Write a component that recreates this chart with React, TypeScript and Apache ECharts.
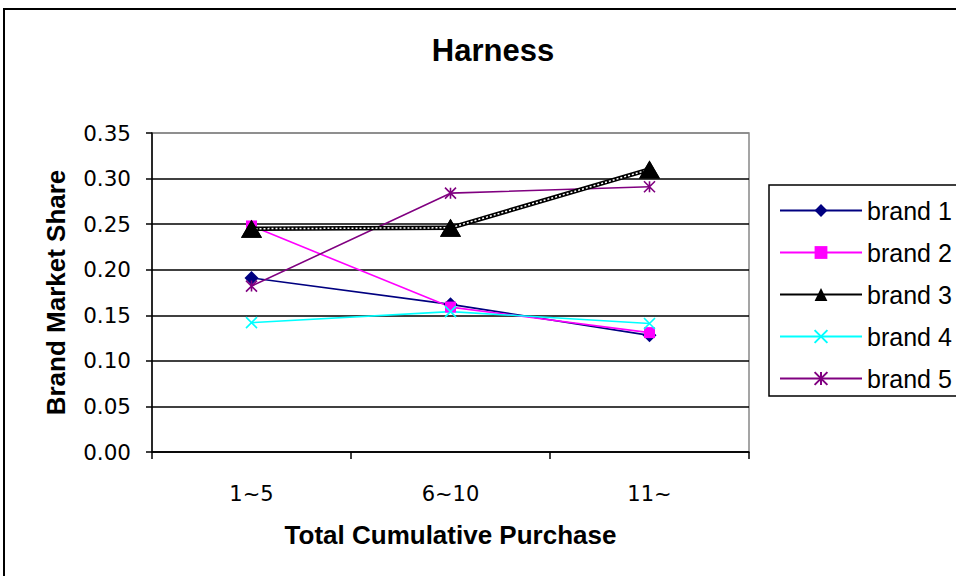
import React, { useEffect, useRef } from "react";
import * as echarts from "echarts";

const categories = ["1~5", "6~10", "11~"];
const brand1 = [0.191, 0.162, 0.128];
const brand2 = [0.248, 0.159, 0.131];
const brand3 = [0.245, 0.246, 0.31];
const brand4 = [0.142, 0.154, 0.141];
const brand5 = [0.182, 0.284, 0.291];
const seriesNames = ["brand 1", "brand 2", "brand 3", "brand 4", "brand 5"];
const yTicks = { min: 0, max: 0.35, interval: 0.05 };

const FONT = "'Liberation Sans', Arial, sans-serif";
const TICK_FONT = "'DejaVu Sans', Verdana, sans-serif";

const crossPath = "path://M0,0L10,10M10,0L0,10";
const asteriskPath = "path://M0,0L10,10M10,0L0,10M5,0L5,10";

export default function App() {
  const ref = useRef<HTMLDivElement>(null);
  useEffect(() => {
    if (!ref.current) return;
    const chart = echarts.init(ref.current, null, { renderer: "svg" });
    const option: any = {
      animation: false,
      backgroundColor: "#fff",
      title: {
        text: "Harness",
        left: 488,
        top: 30,
        textAlign: "center",
        textStyle: { fontFamily: FONT, fontSize: 31, fontWeight: "bold", color: "#000" },
      },
      graphic: [
        {
          type: "rect",
          shape: { x: 4, y: 9, width: 1000, height: 620 },
          style: { fill: "none", stroke: "#000", lineWidth: 2 },
          silent: true,
        },
      ],
      legend: {
        orient: "vertical",
        left: 769,
        top: 185,
        data: seriesNames,
        itemWidth: 82,
        itemHeight: 16,
        itemGap: 17,
        padding: [13, 40, 5, 10],
        borderColor: "#000",
        borderWidth: 1.5,
        textStyle: { fontFamily: FONT, fontSize: 25, color: "#000", padding: [0, 0, 0, 0] },
      },
      grid: {
        left: 152,
        top: 133,
        width: 597,
        height: 319,
        show: true,
        borderColor: "#888",
        borderWidth: 1.5,
        backgroundColor: "transparent",
      },
      xAxis: {
        type: "category",
        data: categories,
        boundaryGap: true,
        name: "Total Cumulative Purchase",
        nameLocation: "middle",
        nameGap: 70,
        nameTextStyle: { fontFamily: FONT, fontSize: 26, fontWeight: "bold", color: "#000" },
        axisLine: { lineStyle: { color: "#000", width: 1.5 } },
        axisTick: { show: true, length: 7, alignWithLabel: false, lineStyle: { color: "#000", width: 1.5 } },
        axisLabel: { fontFamily: TICK_FONT, fontSize: 21, color: "#000", margin: 31 },
        splitLine: { show: false },
      },
      yAxis: {
        type: "value",
        min: yTicks.min,
        max: yTicks.max,
        interval: yTicks.interval,
        name: "Brand Market Share",
        nameLocation: "middle",
        nameGap: 83,
        nameTextStyle: { fontFamily: FONT, fontSize: 26, fontWeight: "bold", color: "#000" },
        axisLine: { show: true, lineStyle: { color: "#000", width: 1.5 } },
        axisTick: { show: true, length: 6, lineStyle: { color: "#000", width: 1.5 } },
        axisLabel: {
          fontFamily: TICK_FONT,
          fontSize: 21.5,
          color: "#000",
          margin: 21,
          formatter: (v: number) => v.toFixed(2),
        },
        splitLine: {
          show: true,
          lineStyle: {
            color: ["#000", "#000", "#000", "#000", "#000", "#000", "#000", "#888"],
            width: 1.6,
          },
        },
      },
      series: [
        {
          name: "brand 1",
          type: "line",
          data: brand1,
          symbol: "diamond",
          symbolSize: 14,
          color: "#000080",
          lineStyle: { color: "#000080", width: 1.6 },
          itemStyle: { color: "#000080" },
          z: 3,
        },
        {
          name: "brand 2",
          type: "line",
          data: brand2,
          symbol: "rect",
          symbolSize: 11,
          color: "#ff00ff",
          lineStyle: { color: "#ff00ff", width: 1.6 },
          itemStyle: { color: "#ff00ff" },
          z: 3,
        },
        {
          name: "brand 3",
          type: "line",
          data: brand3,
          symbol: "triangle",
          symbolSize: [21, 18],
          color: "#000",
          lineStyle: { color: "#000", width: 4.5 },
          itemStyle: { color: "#000" },
          z: 4,
        },
        {
          name: "brand 3 pattern",
          type: "line",
          data: brand3,
          symbol: "triangle",
          symbolSize: [21, 18],
          lineStyle: { color: "#fff", width: 1.5, type: [2, 2] },
          itemStyle: { color: "#000" },
          silent: true,
          z: 5,
        },
        {
          name: "brand 4",
          type: "line",
          data: brand4,
          symbol: crossPath,
          symbolSize: 11,
          color: "#00ffff",
          lineStyle: { color: "#00ffff", width: 1.6 },
          itemStyle: { color: "#00ffff", borderColor: "#00ffff", borderWidth: 1.6 },
          z: 3,
        },
        {
          name: "brand 5",
          type: "line",
          data: brand5,
          symbol: asteriskPath,
          symbolSize: 11,
          color: "#800080",
          lineStyle: { color: "#800080", width: 1.6 },
          itemStyle: { color: "#800080", borderColor: "#800080", borderWidth: 1.6 },
          z: 3,
        },
      ],
    };
    chart.setOption(option);
    return () => chart.dispose();
  }, []);
  return (
    <div
      ref={ref}
      style={{ position: "fixed", left: 0, top: 0, width: 956, height: 576, background: "#fff" }}
    />
  );
}
